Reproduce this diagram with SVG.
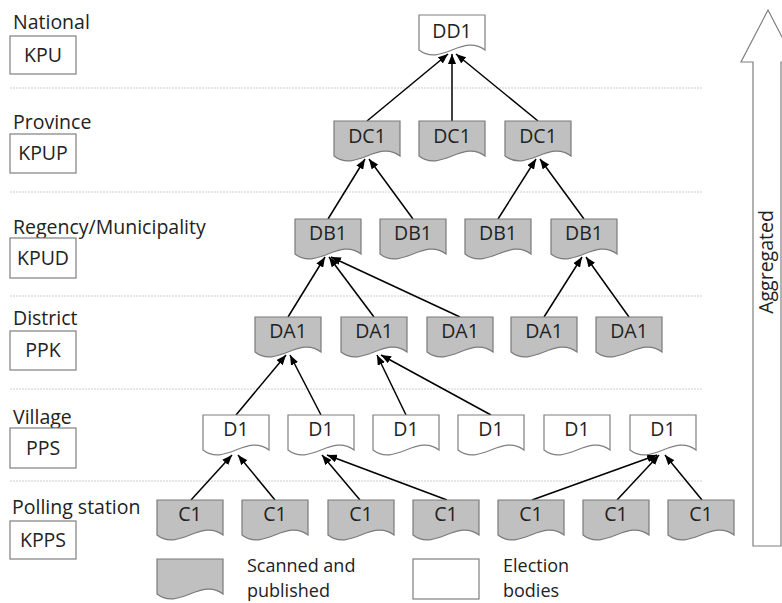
<svg xmlns="http://www.w3.org/2000/svg" xmlns:xlink="http://www.w3.org/1999/xlink" width="782" height="603" viewBox="0 0 782 603">
<style>
text{font-family:"Open Sans","Liberation Sans",sans-serif;fill:#222;}
.lvl{font-size:19.5px;}
.leg{font-size:18px;}
.nt{font-size:19.5px;text-anchor:middle;}
.box{fill:#fff;stroke:#7f7f7f;stroke-width:1.2;}
.g{fill:#c0c0c0;stroke:#7a7a7a;stroke-width:1.2;}
.w{fill:#fff;stroke:#7f7f7f;stroke-width:1.2;}
.sep{stroke:#cfcfcf;stroke-width:1.2;stroke-dasharray:2 1;}
.con line{stroke:#000;stroke-width:1.5;marker-end:url(#ah);}
</style>
<defs>
<path id="doc" d="M0,0 H66 V35 C44,18 22,52 0,35 Z"/>
<marker id="ah" viewBox="0 0 10 8" refX="10" refY="4" markerWidth="10" markerHeight="8" markerUnits="userSpaceOnUse" orient="auto"><path d="M0,0 L10,4 L0,8 Z" fill="#000"/></marker>
</defs>
<rect width="782" height="603" fill="#fff"/>
<g id="separators">
<line class="sep" x1="10" y1="88" x2="702" y2="88"/>
<line class="sep" x1="10" y1="192" x2="702" y2="192"/>
<line class="sep" x1="10" y1="296" x2="702" y2="296"/>
<line class="sep" x1="10" y1="389" x2="702" y2="389"/>
<line class="sep" x1="10" y1="481" x2="702" y2="481"/>
</g>
<g id="levels">
<text class="lvl" x="13" y="29">National</text>
<rect class="box" x="10" y="36" width="66" height="38"/><text class="nt" x="43" y="62">KPU</text>
<text class="lvl" x="13" y="129">Province</text>
<rect class="box" x="10" y="134" width="66" height="39"/><text class="nt" x="43" y="160">KPUP</text>
<text class="lvl" x="13" y="234">Regency/Municipality</text>
<rect class="box" x="10" y="238" width="66" height="40"/><text class="nt" x="43" y="265">KPUD</text>
<text class="lvl" x="13" y="325">District</text>
<rect class="box" x="10" y="331" width="66" height="39"/><text class="nt" x="43" y="357">PPK</text>
<text class="lvl" x="13" y="424">Village</text>
<rect class="box" x="10" y="428" width="66" height="40"/><text class="nt" x="43" y="455">PPS</text>
<text class="lvl" x="12" y="514">Polling station</text>
<rect class="box" x="10" y="521" width="66" height="38"/><text class="nt" x="43" y="547">KPPS</text>
</g>
<g id="connectors" class="con">
<line x1="367" y1="121" x2="448" y2="54"/>
<line x1="452" y1="121" x2="452" y2="54"/>
<line x1="538" y1="121" x2="456" y2="54"/>
<line x1="328" y1="219" x2="365" y2="159"/>
<line x1="413" y1="219" x2="369" y2="159"/>
<line x1="498" y1="219" x2="536" y2="159"/>
<line x1="584" y1="219" x2="540" y2="159"/>
<line x1="288" y1="317" x2="325" y2="257"/>
<line x1="374" y1="317" x2="329" y2="257"/>
<line x1="460" y1="317" x2="331" y2="257"/>
<line x1="544" y1="317" x2="582" y2="257"/>
<line x1="629" y1="317" x2="586" y2="257"/>
<line x1="236" y1="415" x2="286" y2="355"/>
<line x1="321" y1="415" x2="290" y2="355"/>
<line x1="406" y1="415" x2="377" y2="355"/>
<line x1="491" y1="415" x2="381" y2="355"/>
<line x1="191" y1="500" x2="232" y2="455"/>
<line x1="275" y1="500" x2="238" y2="455"/>
<line x1="360" y1="500" x2="322" y2="455"/>
<line x1="447" y1="500" x2="327" y2="455"/>
<line x1="532" y1="500" x2="657" y2="455"/>
<line x1="617" y1="500" x2="659" y2="455"/>
<line x1="702" y1="500" x2="665" y2="455"/>
</g>
<g id="DD1" transform="translate(419,15)"><use href="#doc" class="w"/><text class="nt" x="33" y="23">DD1</text></g>
<g id="DC1-1" transform="translate(334,121)"><use href="#doc" class="g"/><text class="nt" x="33" y="22">DC1</text></g>
<g id="DC1-2" transform="translate(419,121)"><use href="#doc" class="g"/><text class="nt" x="33" y="22">DC1</text></g>
<g id="DC1-3" transform="translate(505,121)"><use href="#doc" class="g"/><text class="nt" x="33" y="22">DC1</text></g>
<g id="DB1-1" transform="translate(295,219)"><use href="#doc" class="g"/><text class="nt" x="33" y="21">DB1</text></g>
<g id="DB1-2" transform="translate(380,219)"><use href="#doc" class="g"/><text class="nt" x="33" y="21">DB1</text></g>
<g id="DB1-3" transform="translate(465,219)"><use href="#doc" class="g"/><text class="nt" x="33" y="21">DB1</text></g>
<g id="DB1-4" transform="translate(551,219)"><use href="#doc" class="g"/><text class="nt" x="33" y="21">DB1</text></g>
<g id="DA1-1" transform="translate(255,317)"><use href="#doc" class="g"/><text class="nt" x="33" y="21">DA1</text></g>
<g id="DA1-2" transform="translate(341,317)"><use href="#doc" class="g"/><text class="nt" x="33" y="21">DA1</text></g>
<g id="DA1-3" transform="translate(427,317)"><use href="#doc" class="g"/><text class="nt" x="33" y="21">DA1</text></g>
<g id="DA1-4" transform="translate(511,317)"><use href="#doc" class="g"/><text class="nt" x="33" y="21">DA1</text></g>
<g id="DA1-5" transform="translate(596,317)"><use href="#doc" class="g"/><text class="nt" x="33" y="21">DA1</text></g>
<g id="D1-1" transform="translate(203,415)"><use href="#doc" class="w"/><text class="nt" x="33" y="21">D1</text></g>
<g id="D1-2" transform="translate(288,415)"><use href="#doc" class="w"/><text class="nt" x="33" y="21">D1</text></g>
<g id="D1-3" transform="translate(373,415)"><use href="#doc" class="w"/><text class="nt" x="33" y="21">D1</text></g>
<g id="D1-4" transform="translate(458,415)"><use href="#doc" class="w"/><text class="nt" x="33" y="21">D1</text></g>
<g id="D1-5" transform="translate(544,415)"><use href="#doc" class="w"/><text class="nt" x="33" y="21">D1</text></g>
<g id="D1-6" transform="translate(630,415)"><use href="#doc" class="w"/><text class="nt" x="33" y="21">D1</text></g>
<g id="C1-1" transform="translate(157,500)"><use href="#doc" class="g"/><text class="nt" x="33" y="21">C1</text></g>
<g id="C1-2" transform="translate(242,500)"><use href="#doc" class="g"/><text class="nt" x="33" y="21">C1</text></g>
<g id="C1-3" transform="translate(328,500)"><use href="#doc" class="g"/><text class="nt" x="33" y="21">C1</text></g>
<g id="C1-4" transform="translate(413,500)"><use href="#doc" class="g"/><text class="nt" x="33" y="21">C1</text></g>
<g id="C1-5" transform="translate(498,500)"><use href="#doc" class="g"/><text class="nt" x="33" y="21">C1</text></g>
<g id="C1-6" transform="translate(583,500)"><use href="#doc" class="g"/><text class="nt" x="33" y="21">C1</text></g>
<g id="C1-7" transform="translate(668,500)"><use href="#doc" class="g"/><text class="nt" x="33" y="21">C1</text></g>
<g id="legend">
<use href="#doc" class="g" transform="translate(157,559)"/>
<text class="leg" x="247" y="572">Scanned and</text>
<text class="leg" x="247" y="597">published</text>
<rect class="w" x="413" y="559" width="66" height="40"/>
<text class="leg" x="503" y="572">Election</text>
<text class="leg" x="503" y="597">bodies</text>
</g>
<g id="aggregated">
<path d="M768,10 L795,62 L781,62 L781,546 L753,546 L753,62 L741,62 Z" fill="#fff" stroke="#7f7f7f" stroke-width="1.2"/>
<text class="lvl" text-anchor="middle" transform="translate(773,262) rotate(-90)">Aggregated</text>
</g>
</svg>
